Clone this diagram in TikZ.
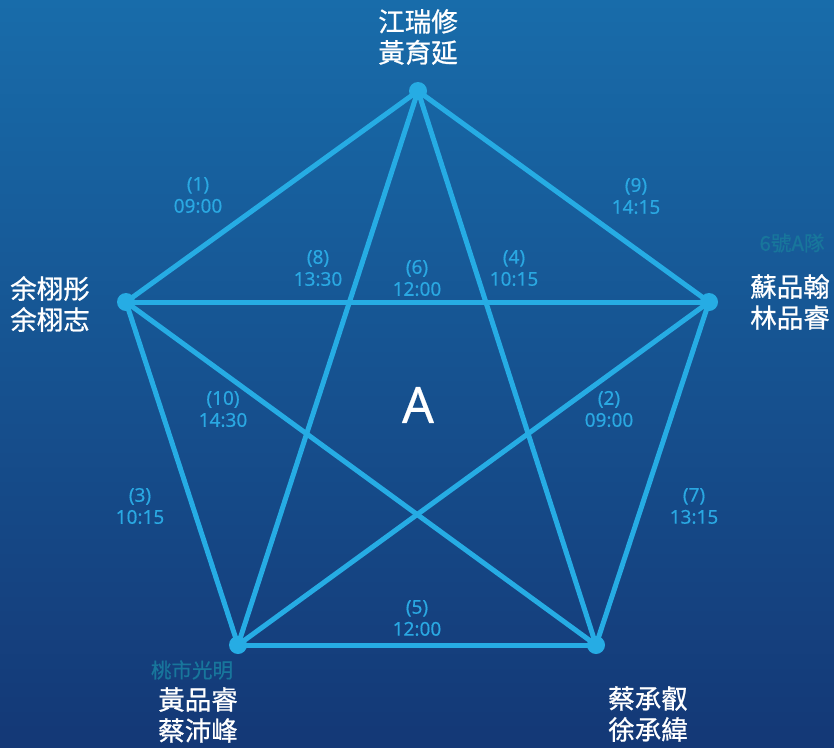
\documentclass[tikz,border=0pt]{standalone}
\usepackage{fontspec}
\setmainfont{Noto Sans CJK TC}
\newfontfamily\cjkname{Noto Sans CJK TC}[FakeBold=0.8]
\newfontfamily\latinfont{Noto Sans}[FakeBold=0.4]
\definecolor{bgtop}{RGB}{24,108,170}
\definecolor{bgbot}{RGB}{20,56,118}
\definecolor{edge}{RGB}{38,172,228}
\definecolor{lbl}{RGB}{42,168,226}
\definecolor{team}{RGB}{24,118,156}
\tikzset{
  vtx/.style={circle,fill=edge,inner sep=0pt,minimum size=18pt},
  edg/.style={draw=edge,line width=5pt},
  lab/.style={text=lbl,font=\latinfont\fontsize{19}{22}\selectfont,align=center},
  pname/.style={text=white,font=\cjkname\fontsize{26.5}{31}\selectfont,align=center},
  teamlab/.style={text=team,font=\cjkname\fontsize{20.5}{22}\selectfont}
}
\begin{document}
\begin{tikzpicture}[x=1pt,y=-1pt]
\shade[top color=bgtop,bottom color=bgbot] (0,0) rectangle (834,747);
\useasboundingbox (0,0) rectangle (834,747);
\coordinate (T) at (418,91);
\coordinate (L) at (126,302);
\coordinate (R) at (709,302);
\coordinate (BL) at (238,645);
\coordinate (BR) at (596,645);
\draw[edg] (T) -- (L);
\draw[edg] (T) -- (R);
\draw[edg] (L) -- (BL);
\draw[edg] (R) -- (BR);
\draw[edg] (BL) -- (BR);
\draw[edg] (L) -- (R);
\draw[edg] (T) -- (BL);
\draw[edg] (T) -- (BR);
\draw[edg] (L) -- (BR);
\draw[edg] (R) -- (BL);
\node[vtx] (vT) at (T) {};
\node[vtx] (vL) at (L) {};
\node[vtx] (vR) at (R) {};
\node[vtx] (vBL) at (BL) {};
\node[vtx] (vBR) at (BR) {};
\node[lab] (l1) at (198,195) {(1)\\09:00};
\node[lab] (l9) at (636,196) {(9)\\14:15};
\node[lab] (l8) at (318,268) {(8)\\13:30};
\node[lab] (l6) at (417,278) {(6)\\12:00};
\node[lab] (l4) at (514,268) {(4)\\10:15};
\node[lab] (l10) at (223,409) {(10)\\14:30};
\node[lab] (l2) at (609,409) {(2)\\09:00};
\node[lab] (l3) at (140,506) {(3)\\10:15};
\node[lab] (l7) at (694,506) {(7)\\13:15};
\node[lab] (l5) at (417,618) {(5)\\12:00};
\node[text=white,font=\latinfont\fontsize{50}{50}\selectfont] (A) at (418,405) {A};
\node[pname] (nT) at (418,37) {江瑞修\\黃育延};
\node[pname] (nL) at (50,304) {余栩彤\\余栩志};
\node[teamlab] (tR) at (792,243) {6號A隊};
\node[pname] (nR) at (790,302) {蘇品翰\\林品睿};
\node[teamlab] (tBL) at (192,670) {桃市光明};
\node[pname] (nBL) at (198,715) {黃品睿\\蔡沛峰};
\node[pname] (nBR) at (648,714) {蔡承叡\\徐承緯};
\end{tikzpicture}
\end{document}
